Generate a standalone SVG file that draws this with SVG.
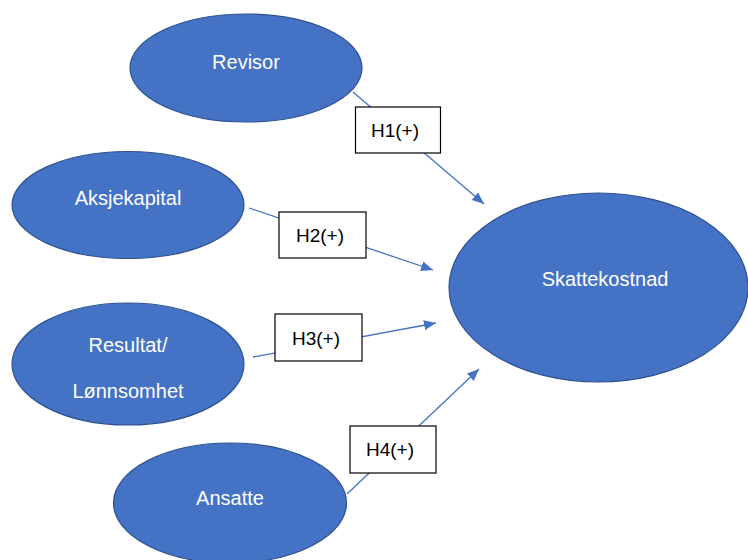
<svg xmlns="http://www.w3.org/2000/svg" width="748" height="560" viewBox="0 0 748 560">
<style>
.node ellipse{fill:#4472C4;stroke:#2F528F;stroke-width:1.2}
.node text{fill:#FFFFFF;font-family:"Liberation Sans",Arial,sans-serif;font-size:20px;text-anchor:middle}
.conn line{stroke:#4472C4;stroke-width:1.3;fill:none}
.lbl rect{fill:#FFFFFF;stroke:#000000;stroke-width:1.2}
.lbl text{fill:#000000;font-family:"Liberation Sans",Arial,sans-serif;font-size:19px;text-anchor:middle}
</style>
<defs>
<marker id="arr" markerUnits="userSpaceOnUse" markerWidth="12" markerHeight="10" refX="12" refY="5" orient="auto">
<path d="M0,0 L12,5 L0,10 z" fill="#4472C4"/>
</marker>
</defs>
<rect width="748" height="560" fill="#FFFFFF"/>
<g id="n-revisor" class="node"><ellipse cx="246" cy="68" rx="116" ry="54"/><text x="246" y="69">Revisor</text></g>
<g id="n-aksjekapital" class="node"><ellipse cx="128" cy="205" rx="116" ry="53.5"/><text x="128" y="205">Aksjekapital</text></g>
<g id="n-resultat" class="node"><ellipse cx="128" cy="364" rx="116" ry="61"/><text x="128" y="352">Resultat/</text><text x="128" y="398">Lønnsomhet</text></g>
<g id="n-ansatte" class="node"><ellipse cx="230" cy="503" rx="116.5" ry="60"/><text x="230" y="505">Ansatte</text></g>
<g id="n-skattekostnad" class="node"><ellipse cx="598.5" cy="287.5" rx="149.5" ry="94.5"/><text x="605" y="286">Skattekostnad</text></g>
<g id="connectors" class="conn">
<line x1="353" y1="92" x2="484" y2="204" marker-end="url(#arr)"/>
<line x1="249" y1="208" x2="433" y2="270" marker-end="url(#arr)"/>
<line x1="253" y1="357" x2="436" y2="323" marker-end="url(#arr)"/>
<line x1="347" y1="494" x2="479" y2="369" marker-end="url(#arr)"/>
</g>
<g id="l-h1" class="lbl"><rect x="355.5" y="107" width="85" height="46"/><text x="395" y="137">H1(+)</text></g>
<g id="l-h2" class="lbl"><rect x="279" y="212" width="87" height="46"/><text x="320" y="242">H2(+)</text></g>
<g id="l-h3" class="lbl"><rect x="275" y="314" width="87" height="47"/><text x="316" y="345">H3(+)</text></g>
<g id="l-h4" class="lbl"><rect x="350" y="426" width="86" height="47"/><text x="390" y="456">H4(+)</text></g>
</svg>
